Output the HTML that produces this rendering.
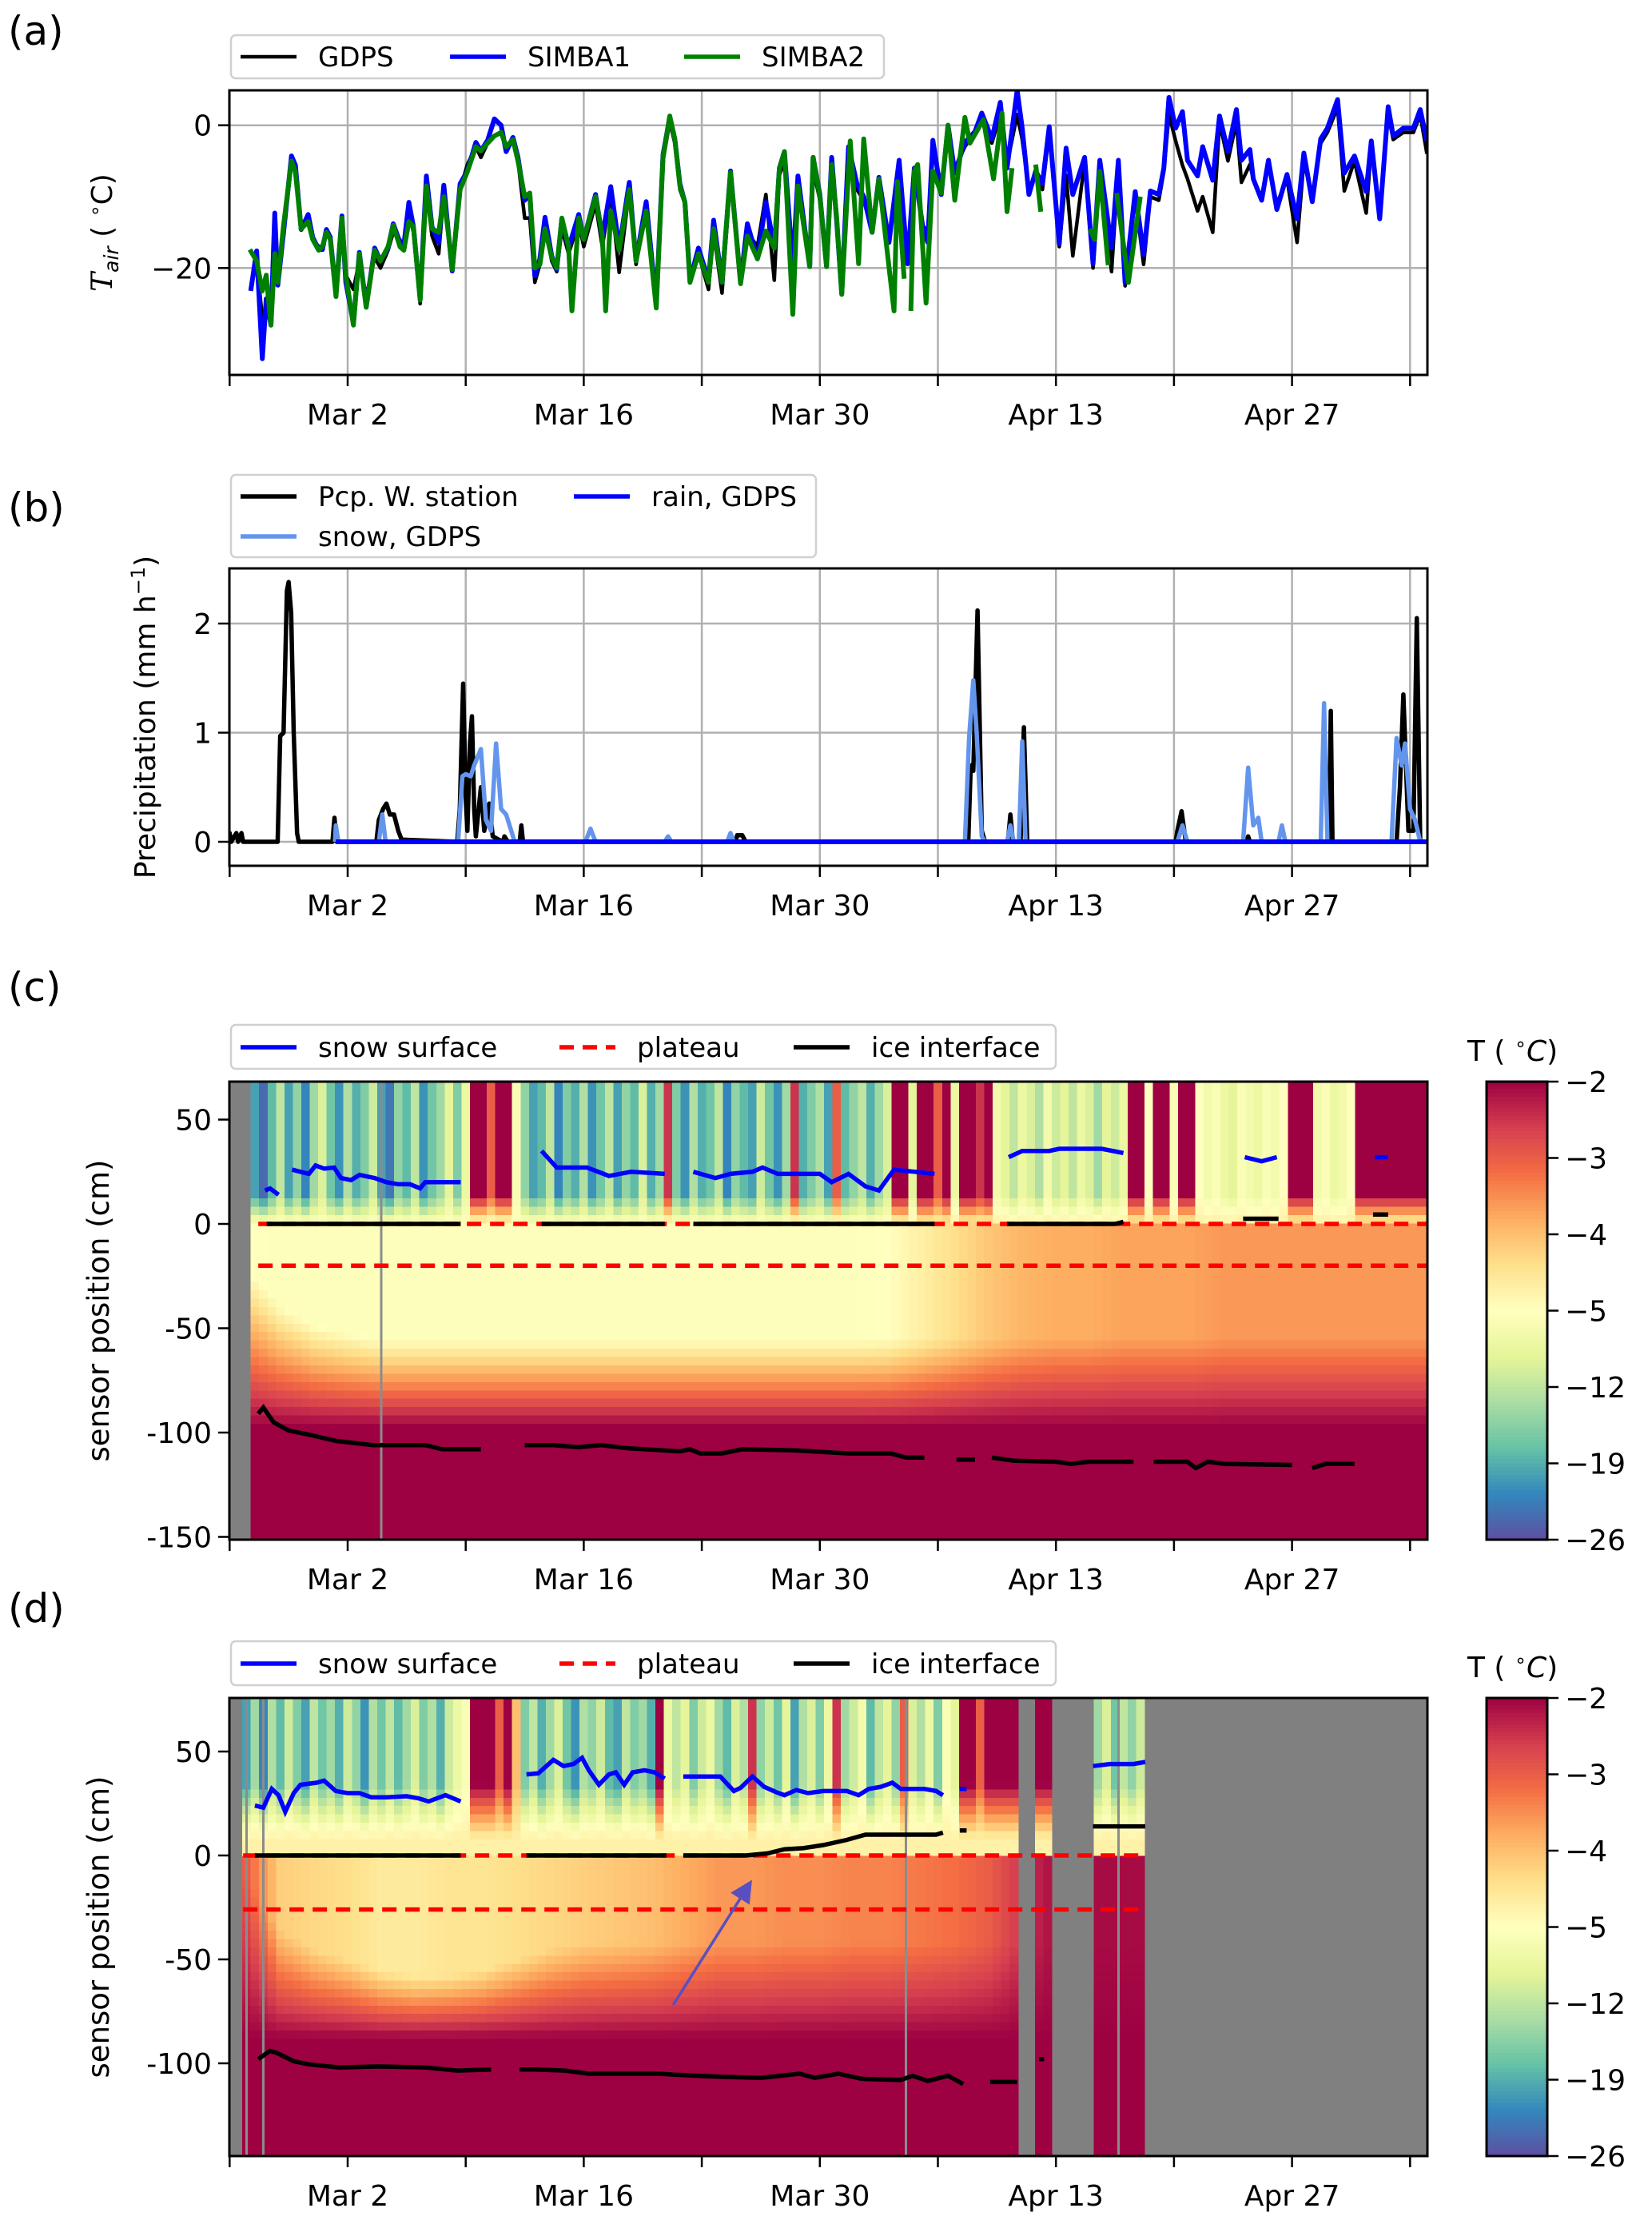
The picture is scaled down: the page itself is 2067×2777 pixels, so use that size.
<!DOCTYPE html>
<html><head><meta charset="utf-8">
<style>
html,body{margin:0;padding:0;background:#fff;}
svg{display:block;font-family:"DejaVu Sans","Liberation Sans",sans-serif;}
</style></head>
<body>
<svg id="fig" xmlns="http://www.w3.org/2000/svg" width="2067" height="2777" viewBox="0 0 2067 2777">
<defs>
<clipPath id="clipA"><rect x="287" y="113" width="1499" height="356"/></clipPath>
<clipPath id="clipB"><rect x="287" y="711" width="1499" height="372"/></clipPath>
<clipPath id="clipC"><rect x="287" y="1353" width="1499" height="573"/></clipPath>
<clipPath id="clipD"><rect x="287" y="2124" width="1499" height="573"/></clipPath>
<marker id="arrowhead" markerWidth="8" markerHeight="8" refX="6" refY="4" orient="auto" markerUnits="strokeWidth"><path d="M0,0 L8,4 L0,8 z" fill="#5a4fc0"/></marker>
</defs>
<g id="root"></g>
</svg>
<script>
// ===== Panel (a) data: air temperature =====
const simba1Days=[-5.75,-5.4,-5.06,-4.83,-4.55,-4.32,-4.14,-3.8,-3.33,-3.1,
-2.76,-2.34,-2.07,-1.72,-1.5,-1.26,-1.03,-0.69,-0.34,-0.11,
0.34,0.69,1.1,1.6,1.95,2.4,2.7,3.1,3.33,3.63,
3.9,4.3,4.67,5.0,5.4,5.7,6.0,6.2,6.67,7.1,
7.6,7.9,8.3,8.7,9.1,9.4,9.8,10.1,10.5,10.8,
11.1,11.4,11.7,12.1,12.4,12.7,13.1,13.7,14.0,14.7,
15.1,15.6,16.1,16.7,17.1,17.7,18.3,18.7,19.1,19.4,
19.7,20.0,20.3,20.8,21.4,21.7,22.2,22.7,23.3,23.7,
24.3,24.8,25.3,25.6,25.9,26.4,26.7,27.4,27.6,28.0,
28.4,28.7,29.0,29.3,29.7,30.2,30.6,31.1,31.5,32.1,
32.7,33.2,33.6,34.1,34.4,34.7,35.2,35.6,36.0,36.6,
37.2,37.6,38.2,38.7,39.1,39.7,40.0,40.4,40.8,41.2,
41.6,42.2,42.6,43.0,43.7,44.2,44.6,45.3,45.7,46.1,
46.7,47.2,47.6,48.1,48.4,48.7,49.1,49.5,49.8,50.4,
50.7,51.3,51.7,52.2,52.7,53.0,53.5,53.7,54.2,54.6,
55.1,55.7,56.3,56.7,57.2,57.7,58.1,58.7,59.1,59.7,
60.4,60.7,61.2,61.7,62.0,62.6,63.2,63.6,64.0];
const simba1Vals=[-23.2,-17.6,-32.7,-24.3,-28,-12.3,-22.4,-15,-4.3,-5.6,
-14.6,-12.5,-15.7,-17.4,-17.4,-14.6,-15.7,-23.6,-12.7,-22,
-27.7,-17.8,-25.4,-17.2,-19,-17.2,-13.8,-16.4,-16.8,-10.8,
-14.2,-24.3,-7.1,-14.2,-16.4,-8.4,-15.7,-20.4,-8.2,-6.4,
-2.4,-3.6,-2.1,0.9,0,-3.7,-1.7,-4.5,-10.5,-9.7,
-21.1,-18.7,-12.9,-18.3,-20.2,-13.1,-17.2,-12.5,-16,-9.7,
-15.7,-8.6,-17.2,-8,-19,-10.7,-25,-4.1,1.1,-1.9,
-8.2,-10.8,-21.7,-17.2,-21.7,-13.3,-22,-6.4,-22,-13.8,
-18.7,-10.8,-17.2,-6,-3.7,-20,-7.1,-19.8,-4.5,-9.7,
-19.8,-4.5,-13.5,-23.6,-3,-8.2,-10,-15,-7.3,-16.4,
-4.9,-19.4,-6,-14.2,-16.4,-2.1,-9.7,0,-6.7,-2.4,
-0.9,1.7,-1.9,3.2,-6,4.9,-0.4,-9.7,-6.4,-8.2,
-0.2,-16.6,-3.2,-9.7,-4.5,-19.4,-4.9,-17.2,-4.9,-22,
-9.3,-18.1,-9.2,-9.7,-6,3.9,-0.4,1.9,-4.9,-7.1,
-3,-7.7,1.3,-3.7,2.2,-4.9,-3.4,-7.5,-10.5,-4.9,
-11.8,-6.9,-13.1,-3.9,-10.7,-1.9,-0.4,3.6,-6.7,-4.3,
-9.3,-2.2,-13.1,2.6,-1.5,-0.4,-0.4,2.2,-2.2];
const gdpsDays=simba1Days.slice();
const gdpsVals=[-17.5,-19,-27,-26,-27.5,-14,-22,-15,-5.5,-6.5,
-14,-13,-16,-17,-17,-15,-16,-23,-14,-21,
-23,-19,-24,-18.5,-20,-17.5,-15,-16,-17.5,-12,
-15,-25,-9,-15.5,-18,-9.5,-16,-19.5,-9,-5.5,
-3,-4.5,-2.5,-1.5,-1,-3.5,-2,-5,-13,-13,
-22,-19.5,-14,-19,-20.5,-14.5,-18,-13.5,-17,-11,
-17,-9.5,-20.6,-9,-19.5,-11.5,-24.5,-5,0.5,-2.5,
-9,-11,-21.5,-18,-23,-15,-23.5,-7.5,-21.5,-15,
-17,-9.7,-21.7,-7,-5,-19,-8,-19,-6,-10.5,
-19,-5.5,-14,-23,-4,-9,-10.5,-14.5,-8,-16,
-6,-19.5,-7,-14,-15,-3,-8.5,-0.5,-6,-3,
-1,0.5,-2.5,1.5,-5.5,1.5,-2,-9,-7,-9,
-1,-17,-7,-18.3,-5,-20,-6,-20.5,-5.5,-22.5,
-10,-19.5,-10,-10.5,-6.5,1.5,-2.2,-5.6,-7.5,-12,
-10,-15,0.5,-5,0.5,-8,-5.5,-7.5,-10.5,-5.5,
-11,-7.5,-16.4,-5,-10,-2.5,-1,2.5,-9.2,-5,
-12.3,-3,-12.5,1.5,-2,-1,-1,1.5,-4];
const simba2Days=[-5.8,-5.4,-5.06,-4.83,-4.55,-4.32,-4.14,-3.8,-3.33,-3.1,
-2.76,-2.34,-2.07,-1.72,-1.5,-1.26,-1.03,-0.69,-0.34,-0.11,
0.34,0.69,1.1,1.6,1.95,2.4,2.7,3.1,3.33,3.63,
3.9,4.3,4.67,5.0,5.4,5.7,6.0,6.2,6.67,7.1,
7.6,7.9,8.3,8.7,9.1,9.4,9.8,10.1,10.5,10.8,
11.1,11.4,11.7,12.1,12.4,12.7,13.1,13.3,13.7,14.0,
14.7,15.1,15.3,15.6,16.1,16.7,17.1,17.7,18.3,18.7,
19.1,19.4,19.7,20.0,20.3,20.8,21.4,21.7,22.2,22.7,
23.3,23.7,24.3,24.8,25.3,25.6,25.9,26.4,26.7,27.4,
27.6,28.0,28.4,28.7,29.0,29.3,29.8,30.3,30.6,31.1,
31.5,32.4,32.6,33.0,33.1,33.4,33.6,33.8,34.3,34.7,
35.2,35.6,36.0,36.6,36.9,37.7,38.3,38.8,39.1,39.4,
39.6,40.8,41.1,41.3,44.0,44.3,44.6,45.1,45.3,45.6,
46.3,47.0];
const simba2Vals=[-17.4,-19,-23.2,-21,-28,-18,-22,-14,-5,-6.5,
-14.5,-13.5,-16,-17.5,-17,-15,-16,-24,-13,-21,
-28,-18,-25.5,-17.5,-19,-17,-14,-17,-17.5,-13.5,
-14.2,-24.5,-8.5,-14.5,-15,-10,-15.7,-20.2,-9,-6.5,
-3,-3.6,-2.5,-1.5,-1,-3,-2,-5,-10,-9.5,
-20,-19.5,-14.5,-18.5,-20,-13,-17,-26,-13,-16,
-10,-15.5,-26,-12,-17.5,-9,-19,-12,-25.6,-4.5,
1.3,-1.9,-8.5,-10.8,-22,-18,-22,-14.5,-22,-6.6,
-22.2,-15.5,-18.7,-14.8,-17.2,-6,-3.7,-26.5,-8.5,-19.8,
-4.5,-10,-19.8,-5.5,-13,-23.7,-2.2,-19.4,-1.9,-15,
-7.5,-26,-7.9,-21.5,null,-26,-6.4,-5.5,-24.9,-6.4,
-9.5,0,-10.5,1.1,-2.5,0.8,-7.5,1.7,-12.1,-6,
null,-5.5,-12.1,null,-14.5,-16,-6.5,-19.6,null,-9.5,
-22,-10];
const tairTicks=[0,-20];

// ===== Panel (b) data: precipitation =====
const pcpDays=[-7.1,-7.0,-6.9,-6.6,-6.5,-6.3,-6.2,-4.15,-4.0,-3.8,-3.6,-3.5,-3.35,-3.2,-3.0,-2.9,-0.9,-0.78,-0.65,1.7,1.85,2.1,2.3,2.5,2.75,3.0,3.2,6.5,6.65,6.85,7.0,7.1,7.25,7.37,7.5,7.6,7.9,8.1,8.4,8.6,9.2,9.3,9.5,10.2,10.3,10.4,23.0,23.1,23.4,23.6,36.8,36.95,37.1,37.35,37.6,37.8,39.15,39.3,39.45,39.9,40.1,40.3,49.1,49.2,49.45,49.7,53.3,53.4,53.5,58.2,58.3,58.4,62.2,62.4,62.6,62.9,63.2,63.4,63.6,64.2];
const pcpVals=[0,0.08,0,0.08,0,0.08,0,0,0.97,1.0,2.3,2.38,2.1,1.0,0.08,0,0,0.22,0,0,0.2,0.3,0.35,0.25,0.25,0.1,0.02,0,0.3,1.45,0.4,0.1,0.9,1.15,0.3,0.05,0.5,0.1,0.35,0.05,0,0.05,0,0,0.15,0,0,0.06,0.06,0,0,0.7,0.65,2.12,0.1,0,0,0.25,0,0,1.05,0,0,0.1,0.28,0,0,0.05,0,0,1.2,0,0,0.5,1.35,0.1,0.1,2.05,0,0];
const snowDays=[-0.75,-0.7,-0.55,1.85,2.05,2.25,6.55,6.8,7.0,7.3,7.5,7.9,8.2,8.5,8.8,9.1,9.4,9.7,9.9,14.1,14.4,14.7,18.8,19.0,19.2,22.5,22.7,22.9,36.6,36.85,37.1,37.3,37.6,37.8,39.1,39.3,39.5,39.8,40.0,40.2,49.2,49.5,49.8,53.1,53.4,53.7,54.0,54.2,55.2,55.4,55.6,57.7,57.9,58.1,61.9,62.2,62.5,62.7,63.0,63.3,63.6,64.2];
const snowVals=[0,0.15,0,0,0.25,0,0,0.6,0.62,0.6,0.7,0.85,0.2,0.1,0.9,0.3,0.25,0.1,0,0,0.12,0,0,0.05,0,0,0.08,0,0,0.95,1.48,1.0,0.05,0,0,0.15,0,0,0.92,0,0,0.15,0,0,0.68,0.15,0.22,0,0,0.15,0,0,1.27,0,0,0.95,0.7,0.9,0.3,0.2,0,0];
const rainDays=[-0.7,64.2];
const rainVals=[0,0];
const pcpTicks=[0,1,2];

// ===== Panel (c)/(d) heatmap data (0.5-day columns from day -6) =====
const cAirTemp=[null,-20,-24,
-18,-12,-20,-15,-22,-14,-10,-17,-21,-13,-19,-16,-11,-20,-23,-15,-18,-12,-21,-17,-14,-9,-16,-8,
-2,-2,-3,-2,-2,-6,
-15,-20,-18,-12,-22,-16,-19,-13,-21,-17,-12,-20,-15,-18,-10,-19,-14,-2.5,
-16,-21,-13,-19,-17,-12,-22,-15,-18,-20,-11,-17,-21,-14,-2.5,-19,-16,-13,-20,-3,-18,-15,-12,-19,-14,-10,
-2,-2,-9,-2,-2,-3,-2,-8,-2,-2,-2.5,-2,-7,
-9,-12,-8,-10,-13,-7,-11,-9,-12,-8,-10,-14,-9,-11,-8,
-2,-2,-5,-2,-2,-6,-2,-2,-5,
-7,-6,-8,-9,-6,-7,-8,-6,-7,-5,
-2,-2,-2,
-7,-6,-8,-7,-5,
-2,-2,-2,-2,-2,-2,-2,-2,-2];
const dAirTemp=[-20,-14,-22,
-13,-18,-11,-16,-20,-12,-17,-14,-19,-11,-15,-21,-13,-17,-12,-18,-14,-10,-16,-13,-19,-11,-8,
-6,-2,-2,-2,-3,-2,-4,
-16,-12,-19,-14,-10,-17,-21,-13,-15,-11,-18,-20,-12,-16,-14,-19,-2,-8,
-12,-9,-16,-11,-8,-14,-18,-10,-13,-2.5,-15,-11,-17,-9,-20,-13,-10,-16,-8,-2.5,-14,-11,-7,-18,-12,-9,-15,-3,-10,-13,-8,-16,-6,-9,
-2,-2,-3,-2,-2,-2,-2,
null,null,-2,
-2,null,null,null,null,null,
-14,-10,-17,-12,-15,-11,
null,null,null,null,null,null,null,null,null,null,null,null,null,null,null,null,null,null,null,null,null,null,null,null,null,null,null,null,null,null,null,null,null,null];
// interior temperature & transition depth every 2 days from day -6
const cInteriorTemp=[-5.2,-5.3,-5.3,-5.3,-5.3,-5.3,-5.3,-5.3,-5.3,-5.3,-5.3,-5.3,-5.3,-5.3,-5.3,-5.3,-5.3,-5.3,-5.3,-5.0,-4.7,-4.4,-4.1,-3.9,-3.8,-3.8,-3.7,-3.7,-3.7,-3.6,-3.6,-3.6,-3.6,-3.6,-3.6,-3.6];
const cTransTop=[-20,-38,-48,-52,-55,-55,-55,-55,-55,-55,-55,-55,-55,-55,-55,-55,-55,-55,-55,-55,-55,-55,-55,-55,-55,-55,-55,-55,-55,-55,-55,-55,-55,-55,-55,-55];
const dInteriorTemp=[-3.0,-4.2,-4.3,-4.4,-4.6,-4.6,-4.5,-4.5,-4.4,-4.3,-4.2,-4.1,-4.0,-3.8,-3.6,-3.6,-3.5,-3.5,-3.4,-3.4,-3.3,-3.2,-3.0,-2.5,-2.1,-2.1,-2.1,-2.1,-2.1,-2.1,-2.1,-2.1,-2.1,-2.1,-2.1,-2.1];
const dTransTop=[-10,-35,-45,-50,-55,-58,-58,-55,-50,-45,-42,-42,-42,-42,-42,-42,-42,-42,-42,-42,-42,-42,-42,-42,-42,-42,-42,-42,-42,-42,-42,-42,-42,-42,-42,-42];

// panel (c) lines
const cSnowDays=[-4.9,-4.6,-4.1,-4.0,-3.3,-2.8,-2.3,-1.9,-1.4,-0.8,-0.4,0.2,0.7,1.6,2.3,3.0,3.7,4.3,4.6,5.5,6.7,6.8,11.5,12.4,14.2,15.5,16.8,18.8,18.9,20.5,21.8,22.7,24,24.6,25.5,28,28.7,29.7,30.7,31.5,32.4,34.8,34.9,39.2,40,41.6,42.2,44.7,46,46.1,53.2,54.2,55.1,55.2,60.9,61.7];
const cSnowVals=[16,17,14,null,26,25,24,28,26.5,27,22,21,23.5,22,20,19,19,17,20,20,20,null,35,27,27,23,25,24,null,25,22,24,25,27,24,24,20,24,18,16,26,24,null,32,35,35,36,36,34,null,32,30,32,null,32,32];
const cIceTopDays=[-4.8,6.7,6.8,11.5,18.8,18.9,20.5,34.8,34.9,39.1,45.5,46,46.1,53.1,55.2,55.3,60.8,61.7];
const cIceTopVals=[0,0,null,0,0,null,0,0,null,0,0,1,null,2.5,2.5,null,4.5,4.5];
const cIceBotDays=[-5.3,-5.0,-4.4,-3.5,-2.3,-0.7,1.5,4.6,5.6,7.9,8.0,10.5,12.2,13.7,15.0,16.6,19.7,20.3,20.9,22.2,23.4,26.5,29.7,32.2,33.1,34.2,34.3,36.1,37.2,37.3,38.2,39.5,42,42.9,43.9,46.6,46.7,47.8,49.8,50.3,51,52,56,56.1,57.2,58,59.7];
const cIceBotVals=[-91,-88,-95,-99,-101,-104,-106,-106,-108,-108,null,-106,-106,-107,-106,-107.5,-109,-108,-110,-110,-108,-108.5,-110,-110,-112,-112,null,-113,-113,null,-112,-113.5,-114,-115,-114,-114,null,-114,-114,-117,-114,-115,-115.5,null,-117,-115,-115];
const cPlateau=[0,-20];
// panel (d) lines
const dSnowDays=[-5.5,-5.0,-4.5,-4.1,-3.7,-3.2,-2.8,-1.85,-1.4,-0.7,0,0.7,1.4,2.3,3.5,4.2,4.8,5.8,6.7,6.8,10.6,11.3,12.2,12.8,13.4,13.9,14.3,14.9,15.5,15.9,16.4,16.9,17.6,18.2,18.8,18.9,19.9,20.8,22.1,22.9,23.3,24,24.7,25.4,25.9,26.6,27.3,28.2,29.6,30.3,30.9,31.6,32.3,32.8,34.2,34.9,35.3,35.4,36.3,36.7,36.8,44.2,45.2,46.6,47.3];
const dSnowVals=[24,23,32,29,21,30,34,35,36,31,30,30,28,28,28.5,27.5,26,29,26,null,39,39.5,46,43,44,47,41,34,39,40,34,40,41,40,37,null,38,38,38,31,32.5,38,33,30.5,29,31.5,30,31,31,29,32,33,35,32,32,31,29,null,32,32,null,43,44,44,45];
const dIceTopDays=[-5.5,6.7,6.8,10.6,18.9,19.0,19.9,23.6,24.9,25.9,27,28.2,29.6,30.7,32.8,34.9,35.3,35.4,36.3,36.7,36.8,44.2,47.3];
const dIceTopVals=[0,0,null,0,0,null,0,0,1,3,3.5,5,7.5,10,10,10,11,null,12,12,null,14,14];
const dIceBotDays=[-5.3,-4.6,-4.2,-3.2,-2.3,-0.5,1.8,4.6,6.5,8.5,8.6,10.2,11.1,12.9,14.3,18.5,19.4,22.2,24.5,26.8,27.7,29.1,30.5,32.8,33.5,34.4,35.6,36.5,36.6,38.1,39.7,39.8,41.0,41.3];
const dIceBotVals=[-98,-94,-95,-99,-100.5,-102,-101.5,-102,-103.5,-103,null,-103,-103,-103.5,-105,-105,-105.5,-106.5,-107,-105,-107,-105,-107.5,-108,-106,-108.5,-106,-110,null,-109,-109,null,-98,-98];
const dPlateau=[0,-26];

const dateTickDays=[-7,0,7,14,21,28,35,42,49,56,63];
const dateLabels=['Mar 2','Mar 16','Mar 30','Apr 13','Apr 27'];
const dateLabelDays=[0,14,28,42,56];
const cbarTicks=['−2','−3','−4','−5','−12','−19','−26'];
const cbarTickTemps=[-2,-3,-4,-5,-12,-19,-26];

// ===== rendering =====
const NS='http://www.w3.org/2000/svg';
const root=document.getElementById('root');
const XL=287, XR=1786, X0=435, DX=21.1;
const FS=36, LFS=34;
const xs=d=>X0+d*DX;
function el(tag,attrs,parent){const e=document.createElementNS(NS,tag);for(const k in attrs)e.setAttribute(k,attrs[k]);(parent||root).appendChild(e);return e;}
function txt(str,attrs,parent){const t=el('text',attrs,parent);t.textContent=str;return t;}

const spectral=['#5e4fa2','#3288bd','#66c2a5','#abdda4','#e6f598','#ffffbf','#fee08b','#fdae61','#f46d43','#d53e4f','#9e0142'];
const spRGB=spectral.map(h=>[parseInt(h.substr(1,2),16),parseInt(h.substr(3,2),16),parseInt(h.substr(5,2),16)]);
function cmap(p){p=Math.max(0,Math.min(1,p));const f=p*10,i=Math.min(9,Math.floor(f)),r=f-i;const a=spRGB[i],b=spRGB[i+1];return 'rgb('+[0,1,2].map(k=>Math.round(a[k]+(b[k]-a[k])*r)).join(',')+')';}
function pOfT(t){const T=cbarTickTemps.slice().reverse();
 if(t<=T[0])return 0;if(t>=T[6])return 1;for(let i=0;i<6;i++){if(t<=T[i+1])return (i+(t-T[i])/(T[i+1]-T[i]))/6;}return 1;}
function interp2(arr,day){const f=(day+6)/2;let i=Math.floor(f);if(i<0)return arr[0];if(i>=arr.length-1)return arr[arr.length-1];const r=f-i;return arr[i]+(arr[i+1]-arr[i])*r;}

function linePath(days,vals,ys){let d='',pen=false;for(let i=0;i<days.length;i++){const v=vals[i];if(v===null||v===undefined){pen=false;continue;}d+=(pen?'L':'M')+xs(days[i]).toFixed(1)+','+ys(v).toFixed(1);pen=true;}return d;}

function frame(top,bot,name){el('rect',{x:XL,y:top,width:XR-XL,height:bot-top,fill:'none',stroke:'#000','stroke-width':3,});}
function xAxis(top,bot,name,grid){
 const g=el('g',{});
 dateTickDays.forEach(d=>{const x=xs(d);if(x<XL-1||x>XR+1)return;
  if(grid)el('line',{x1:x,x2:x,y1:top,y2:bot,stroke:'#b0b0b0','stroke-width':2.5},grid);
  el('line',{x1:x,x2:x,y1:bot,y2:bot+14,stroke:'#000','stroke-width':2.5},g);});
 dateLabelDays.forEach((d,i)=>{txt(dateLabels[i],{x:xs(d),y:bot+62,'font-size':FS,'text-anchor':'middle',},g);});
}
function yTicks(vals,labels,ys,name,grid){
 const g=el('g',{});
 vals.forEach((v,i)=>{const y=ys(v);
  if(grid)el('line',{x1:XL,x2:XR,y1:y,y2:y,stroke:'#b0b0b0','stroke-width':2.5},grid);
  el('line',{x1:XL-14,x2:XL,y1:y,y2:y,stroke:'#000','stroke-width':2.5},g);
  txt(labels[i],{x:XL-22,y:y+13,'font-size':FS,'text-anchor':'end',},g);});
}
function legendBox(x,y,w,h,name){el('rect',{x:x,y:y,width:w,height:h,rx:6,fill:'#fff','fill-opacity':0.8,stroke:'#d0d0d0','stroke-width':2.5,});}
function legendEntry(x,y,label,color,dash,name,width){
 const g=el('g',{});
 const a={x1:x,x2:x+70,y1:y,y2:y,stroke:color,'stroke-width':width||5.5};if(dash)a['stroke-dasharray']=dash;el('line',a,g);
 txt(label,{x:x+97,y:y+12,'font-size':LFS},g);}
function panelLabel(s,y){txt(s,{x:10,y:y,'font-size':50,});}

// ---- Panel (a)
const yA=v=>156.7-v*8.93;
panelLabel('(a)',56);
const gridA=el('g',{});
xAxis(113,469,'panel-a',gridA);
yTicks(tairTicks,['0','−20'],yA,'panel-a',gridA);
const serA=el('g',{'clip-path':'url(#clipA)',});
let pth;
pth=el('path',{d:linePath(gdpsDays,gdpsVals,yA),fill:'none',stroke:'#000','stroke-width':4.5,'stroke-linejoin':'round'},serA);


pth=el('path',{d:linePath(simba1Days,simba1Vals,yA),fill:'none',stroke:'#0000ff','stroke-width':6,'stroke-linejoin':'round'},serA);


pth=el('path',{d:linePath(simba2Days,simba2Vals,yA),fill:'none',stroke:'#008000','stroke-width':6,'stroke-linejoin':'round'},serA);


frame(113,469,'panel-a');
legendBox(289,44,817,54,'legend-a');
legendEntry(301,71,'GDPS','#000',null,'legend-entry-gdps',4.5);
legendEntry(563,71,'SIMBA1','#0000ff',null,'legend-entry-simba1');
legendEntry(856,71,'SIMBA2','#008000',null,'legend-entry-simba2');
const yla=txt('',{transform:'translate(140,291) rotate(-90)','font-size':36,'text-anchor':'middle',});
yla.innerHTML='<tspan font-style="italic" font-family="DejaVu Serif, Liberation Serif, serif">T</tspan><tspan font-style="italic" font-size="25" dy="8">air</tspan><tspan dy="-8"> ( </tspan><tspan font-size="24" dy="-13">∘</tspan><tspan dy="13">C)</tspan>';

// ---- Panel (b)
const yB=v=>1053-v*136.5;
panelLabel('(b)',652);
const gridB=el('g',{});
xAxis(711,1083,'panel-b',gridB);
yTicks(pcpTicks,['0','1','2'],yB,'panel-b',gridB);
const serB=el('g',{'clip-path':'url(#clipB)',});
pth=el('path',{d:linePath(pcpDays,pcpVals,yB),fill:'none',stroke:'#000','stroke-width':5.5,'stroke-linejoin':'round'},serB);


pth=el('path',{d:linePath(snowDays,snowVals,yB),fill:'none',stroke:'#6495ed','stroke-width':5.5,'stroke-linejoin':'round'},serB);


pth=el('path',{d:linePath(rainDays,rainVals,yB),fill:'none',stroke:'#0000ff','stroke-width':6},serB);


frame(711,1083,'panel-b');
legendBox(289,594,732,103,'legend-b');
legendEntry(301,621,'Pcp. W. station','#000',null,'legend-entry-pcp');
legendEntry(718,621,'rain, GDPS','#0000ff',null,'legend-entry-rain');
legendEntry(301,671,'snow, GDPS','#6495ed',null,'legend-entry-snow');
const ylb=txt('',{transform:'translate(194,897) rotate(-90)','font-size':36,'text-anchor':'middle',});
ylb.innerHTML='Precipitation (mm h<tspan font-size="24" dy="-13">−1</tspan><tspan dy="13">)</tspan>';

// ---- heatmap panels
function heatPanel(o){
 const ys=z=>o.z0y-z*o.k;
 panelLabel(o.label,o.labelY);
 el('rect',{x:XL,y:o.top,width:XR-XL,height:o.bot-o.top,fill:'#808080',});
 const hg=el('g',{'clip-path':'url(#'+o.clip+')','shape-rendering':'crispEdges',});
 const zTop=(o.z0y-o.top)/o.k, zBot=(o.z0y-o.bot)/o.k, step=4;
 const pBase=pOfT(-5.2);
 for(let i=0;i<o.air.length;i++){
  if(o.air[i]===null)continue;
  const day=-6+i*0.5, x0=xs(day-0.25), w=DX*0.5+0.6;
  const pI=pOfT(interp2(o.intT,day)), tt=interp2(o.trans,day), pa=pOfT(o.air[i]);
  for(let z=zTop;z>zBot-step;z-=step){
   const zc=z-step/2;let pv;
   if(zc>=0){const f=Math.max(0,Math.min(1,(zc-o.bl)/(o.bh-o.bl)));const b=Math.min(pI,pBase+0.02)<pBase?pBase:Math.min(pI,pBase+0.05);pv=b+(pa-b)*f;}
   else if(zc>=tt){pv=pI;}
   else{const f=Math.max(0,Math.min(1,(tt-zc)/(tt-o.warmZ)));pv=pI+(1-pI)*f;}
   const r=el('rect',{x:x0.toFixed(1),y:ys(z).toFixed(1),width:w.toFixed(1),height:(step*o.k+0.6).toFixed(1),fill:cmap(pv)},hg);
   
   
  }
 }
 o.grayLines.forEach(d=>{const l=el('line',{x1:xs(d),x2:xs(d),y1:o.top,y2:o.bot,stroke:'#8c8c8c','stroke-width':3},hg);});
 const lg=el('g',{'clip-path':'url(#'+o.clip+')',});
 o.plateau.forEach(v=>{const l=el('line',{x1:xs(o.platFrom),x2:xs(o.platTo),y1:ys(v),y2:ys(v),stroke:'#ff0000','stroke-width':5.5,'stroke-dasharray':'18,11'},lg);});
 let p=el('path',{d:linePath(o.iceTopD,o.iceTopV,ys),fill:'none',stroke:'#000','stroke-width':5.5},lg);
 
 
 p=el('path',{d:linePath(o.iceBotD,o.iceBotV,ys),fill:'none',stroke:'#000','stroke-width':5.5},lg);
 
 
 p=el('path',{d:linePath(o.snowD,o.snowV,ys),fill:'none',stroke:'#0000ff','stroke-width':5.5},lg);
 
 
 if(o.arrow){const a=el('line',{x1:xs(o.arrow[0]),y1:ys(o.arrow[1]),x2:xs(o.arrow[2]),y2:ys(o.arrow[3]),stroke:'#5a4fc0','stroke-width':3.5,'marker-end':'url(#arrowhead)'},lg);}
 frame(o.top,o.bot,o.name);
 xAxis(o.top,o.bot,o.name,null);
 const yv=o.yt, yl=yv.map(v=>String(v));
 yTicks(yv,yl,ys,o.name,null);
 legendBox(289,o.legY,1032,55,o.name+'-legend');
 legendEntry(301,o.legY+28,'snow surface','#0000ff',null,'legend-entry-snow-surface');
 legendEntry(700,o.legY+28,'plateau','#ff0000','18,11','legend-entry-plateau');
 legendEntry(993,o.legY+28,'ice interface','#000',null,'legend-entry-ice-interface');
 txt('sensor position (cm)',{transform:'translate('+o.ylX+','+((o.top+o.bot)/2)+') rotate(-90)','font-size':37,'text-anchor':'middle',});
 const cb=el('g',{});
 const cx=1860,cw=76,n=120,h=(o.bot-o.top)/n;
 for(let j=0;j<n;j++){el('rect',{x:cx,y:(o.top+j*h).toFixed(2),width:cw,height:(h+0.6).toFixed(2),fill:cmap(1-(j+0.5)/n),'shape-rendering':'crispEdges'},cb);}
 el('rect',{x:cx,y:o.top,width:cw,height:o.bot-o.top,fill:'none',stroke:'#000','stroke-width':3},cb);
 cbarTicks.forEach((s,j)=>{const y=o.top+j*(o.bot-o.top)/6;el('line',{x1:cx+cw,x2:cx+cw+14,y1:y,y2:y,stroke:'#000','stroke-width':2.5},cb);txt(s,{x:cx+cw+22,y:y+13,'font-size':FS,},cb);});
 const ct=txt('',{x:1836,y:o.top-26,'font-size':36,},cb);
 ct.innerHTML='T ( <tspan font-size="24" dy="-13">∘</tspan><tspan dy="13" font-style="italic">C</tspan>)';
}
heatPanel({name:'panel-c',label:'(c)',labelY:1252,top:1353,bot:1926,z0y:1531,k:2.61,clip:'clipC',air:cAirTemp,intT:cInteriorTemp,trans:cTransTop,warmZ:-97,bl:0,bh:14,
 grayLines:[2.0],plateau:cPlateau,platFrom:-5.3,platTo:64.5,iceTopD:cIceTopDays,iceTopV:cIceTopVals,iceBotD:cIceBotDays,iceBotV:cIceBotVals,snowD:cSnowDays,snowV:cSnowVals,
 yt:[50,0,-50,-100,-150],legY:1282,ylX:136});
heatPanel({name:'panel-d',label:'(d)',labelY:2029,top:2124,bot:2697,z0y:2321,k:2.6,clip:'clipD',air:dAirTemp,intT:dInteriorTemp,trans:dTransTop,warmZ:-88,bl:8,bh:34,
 grayLines:[-6.0,-5.0,33.1,45.7],plateau:dPlateau,platFrom:-6.2,platTo:47.3,iceTopD:dIceTopDays,iceTopV:dIceTopVals,iceBotD:dIceBotDays,iceBotV:dIceBotVals,snowD:dSnowDays,snowV:dSnowVals,
 arrow:[19.3,-72,23.8,-14],yt:[50,0,-50,-100],legY:2053,ylX:136});
</script>
</body></html>
